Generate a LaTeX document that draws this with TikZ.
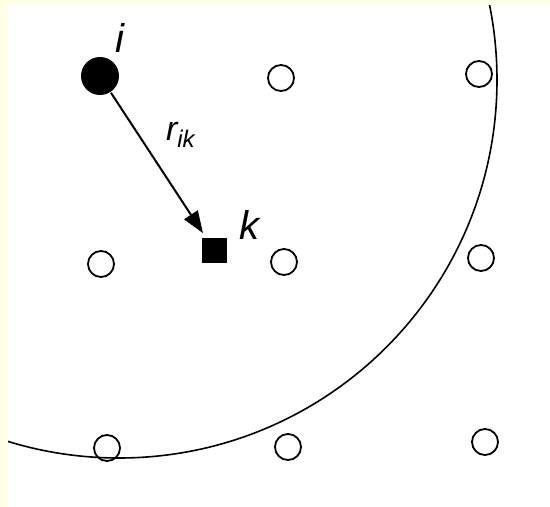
\documentclass[tikz,border=0pt]{standalone}
\usepackage{fontspec}
\setmainfont{Liberation Sans}
\usepackage{xcolor}
\usetikzlibrary{arrows.meta}
\definecolor{pageyellow}{RGB}{255,255,230}
\def\siteSize{26pt}
\def\atomSize{38pt}
\def\probeSize{25pt}
\def\cutR{378pt}
\newcommand{\subik}[1]{\raisebox{-7pt}{\fontsize{24}{24}\selectfont #1}}

\begin{document}
\begin{tikzpicture}[
    x=1pt, y=-1pt,
    line width=2pt,
    >={Triangle[length=22pt,width=16pt]},
    site/.style={circle, draw, line width=1.8pt, minimum size=\siteSize, inner sep=0pt},
    atom/.style={circle, fill, minimum size=\atomSize, inner sep=0pt},
    probe/.style={rectangle, fill, minimum size=\probeSize, inner sep=0pt},
    lbl/.style={font=\fontsize{40}{40}\selectfont\itshape, inner sep=0pt}
]
% page
\fill[pageyellow] (0,0) rectangle (550,507);
\fill[white] (8,5) rectangle (550,507);

% cut-off circle
\coordinate (c) at (119,80);
\begin{scope}
\clip (8,5) rectangle (550,507);
\draw[line width=1.6pt] (c) circle[radius=\cutR];
\end{scope}

% lattice sites
\node[site] (s12) at (281,78) {};
\node[site] (s13) at (479,74) {};
\node[site] (s21) at (101,264) {};
\node[site] (s22) at (284,262) {};
\node[site] (s23) at (481,258) {};
\node[site] (s31) at (107,448) {};
\node[site] (s32) at (288,447) {};
\node[site] (s33) at (485,442) {};

% atom i and point k
\node[atom] (i) at (100,76) {};
\node[probe] (k) at (214,250) {};
\node[lbl] (li) at (120,38) {i};
\node[lbl] (lk) at (249,225) {k};
\node[anchor=base west, inner sep=0pt, font=\fontsize{34}{34}\selectfont\itshape] (rik) at (165,140) {r\subik{ik}};

\draw[->, shorten >=4pt] (i) -- (k);
\end{tikzpicture}
\end{document}
